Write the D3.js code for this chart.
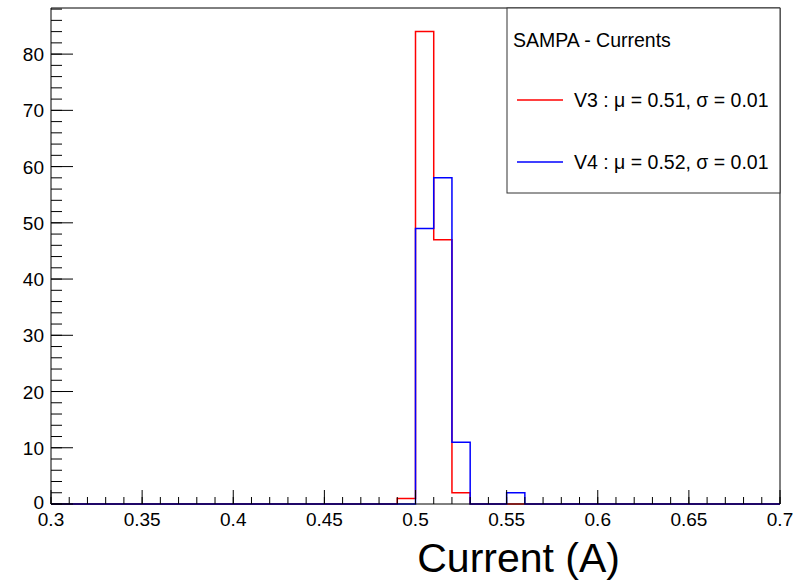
<!DOCTYPE html>
<html>
<head>
<meta charset="utf-8">
<script src="https://cdn.jsdelivr.net/npm/d3@7"></script>
<style>
  body { margin: 0; background: #fff; }
  svg { display: block; font-family: 'Liberation Sans', Arial, Helvetica, sans-serif; }
</style>
</head>
<body>
<svg id="chart" width="795" height="582"></svg>
<script>
// bin lower edges (width 0.01)
const binEdges = [0.49, 0.50, 0.51, 0.52, 0.53, 0.54, 0.55];
const v3Counts = [1, 84, 47, 2, 0, 0, 0];
const v4Counts = [0, 49, 58, 11, 0, 0, 2];
const xTicks = [0.3, 0.35, 0.4, 0.45, 0.5, 0.55, 0.6, 0.65, 0.7];
const yTicks = [0, 10, 20, 30, 40, 50, 60, 70, 80];
const legendTitle = 'SAMPA - Currents';
const series = [
  { name: 'V3 : \u03bc = 0.51, \u03c3 = 0.01', counts: v3Counts, color: '#ff0000' },
  { name: 'V4 : \u03bc = 0.52, \u03c3 = 0.01', counts: v4Counts, color: '#0000ff' }
];
const BIN = 0.01;

const MARGIN = { top: 8, right: 15, bottom: 78, left: 51 };
const svg = d3.select('#chart');
const W = 795 - MARGIN.left - MARGIN.right;
const H = 582 - MARGIN.top - MARGIN.bottom;

const x = d3.scaleLinear().domain([0.3, 0.7]).range([0, W]);
const y = d3.scaleLinear().domain([0, 88.2]).range([H, 0]);

const g = svg.append('g').attr('transform', `translate(${MARGIN.left},${MARGIN.top})`);

// frame top + right
g.append('path')
  .attr('d', `M0,0H${W}V${H}`)
  .attr('fill', 'none').attr('stroke', '#000').attr('stroke-width', 1);

// histograms
const hist = d3.line().curve(d3.curveStepAfter);
series.forEach(s => {
  const pts = [[x(0.3), y(0)]];
  binEdges.forEach((e, i) => pts.push([x(e), y(s.counts[i])]));
  pts.push([x(binEdges[binEdges.length - 1] + BIN), y(0)]);
  pts.push([x(0.7), y(0)]);
  g.append('path')
    .attr('d', hist(pts))
    .attr('fill', 'none')
    .attr('stroke', s.color)
    .attr('stroke-width', 1.5);
});

// x axis
const xMinor = d3.range(0.3, 0.7001, 0.01);
const xAxis = g.append('g').attr('transform', `translate(0,${H})`);
xAxis.selectAll('line.minor').data(xMinor).join('line')
  .attr('x1', d => x(d)).attr('x2', d => x(d))
  .attr('y1', 0).attr('y2', -7).attr('stroke', '#000');
xAxis.selectAll('line.major').data(xTicks).join('line')
  .attr('x1', d => x(d)).attr('x2', d => x(d))
  .attr('y1', 0).attr('y2', -14).attr('stroke', '#000');
xAxis.append('line').attr('x1', 0).attr('x2', W).attr('stroke', '#000');
xAxis.selectAll('text').data(xTicks).join('text')
  .attr('x', d => x(d)).attr('y', 22)
  .attr('text-anchor', 'middle')
  .attr('font-size', 19)
  .text(d => d3.format('')(+d.toFixed(2)));

// y axis
const yMinor = d3.range(0, 88.2, 2);
const yAxis = g.append('g');
yAxis.selectAll('line.minor').data(yMinor).join('line')
  .attr('y1', d => y(d)).attr('y2', d => y(d))
  .attr('x1', 0).attr('x2', 11).attr('stroke', '#000');
yAxis.selectAll('line.major').data(yTicks).join('line')
  .attr('y1', d => y(d)).attr('y2', d => y(d))
  .attr('x1', 0).attr('x2', 22).attr('stroke', '#000');
yAxis.append('line').attr('y1', 0).attr('y2', H).attr('stroke', '#000');
yAxis.selectAll('text').data(yTicks).join('text')
  .attr('x', -7).attr('y', d => y(d) + (d === 0 ? 5 : 7))
  .attr('text-anchor', 'end')
  .attr('font-size', 19)
  .text(d => d);

// axis title
svg.append('text')
  .attr('x', 620).attr('y', 572)
  .attr('text-anchor', 'end')
  .attr('font-size', 41)
  .text('Current (A)');

// legend
const leg = svg.append('g').attr('transform', 'translate(507,8)');
leg.append('rect')
  .attr('width', 273).attr('height', 185)
  .attr('fill', '#fff').attr('stroke', '#333').attr('stroke-width', 1);
leg.append('text')
  .attr('x', 6).attr('y', 39)
  .attr('font-size', 19.5)
  .text(legendTitle);
series.forEach((s, i) => {
  const yy = 92 + i * 62;
  leg.append('line')
    .attr('x1', 10).attr('x2', 56).attr('y1', yy).attr('y2', yy)
    .attr('stroke', s.color).attr('stroke-width', 1.5);
  leg.append('text')
    .attr('x', 67).attr('y', yy + 7)
    .attr('font-size', 19.5)
    .text(s.name);
});
</script>
</body>
</html>
